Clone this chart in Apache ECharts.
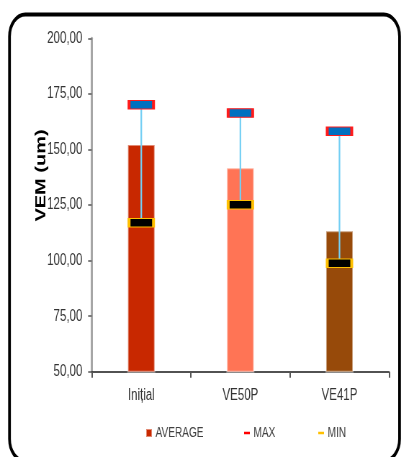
<!DOCTYPE html>
<html>
<head>
<meta charset="utf-8">
<script src="https://cdn.jsdelivr.net/npm/echarts@6/dist/echarts.min.js"></script>
<style>
  html, body { margin: 0; padding: 0; background: #ffffff; overflow: hidden; width: 401px; height: 457px; }
  /* chart is laid out on a wider canvas and condensed horizontally */
  #chart { width: 557px; height: 457px; transform: scaleX(0.72); transform-origin: 0 0; }
</style>
</head>
<body>
<div id="chart"></div>
<script>
// Sample groups and measured VEM values (um)
const categories = ['Inițial', 'VE50P', 'VE41P'];
const averageValues = [152.4, 142.0, 113.6];
const maxValues = [170.1, 166.4, 158.2];
const minValues = [117.0, 125.1, 98.8];
const barColors = ['#C82800', '#FF7455', '#974A0A'];

// Value axis range
const yMin = 50;
const yMax = 200;
const yStep = 25;

const FONT = '"Liberation Sans", Arial, sans-serif';

const chart = echarts.init(document.getElementById('chart'), null, { renderer: 'canvas' });

const legendText = { fontSize: 14, color: '#404040', fontFamily: FONT };

const option = {
  animation: false,
  backgroundColor: '#ffffff',
  textStyle: { fontFamily: FONT },
  grid: { left: 127.4, right: 16.7, top: 38.3, bottom: 85.3, containLabel: false },
  graphic: [
    {
      type: 'rect',
      shape: { x: 13.2, y: 14.5, width: 541.7, height: 446.5, r: 22 },
      style: { fill: 'none', stroke: '#000000', lineWidth: 3.8 },
      z: 100
    },
    {
      type: 'text',
      x: 57,
      y: 175.5,
      rotation: Math.PI / 2,
      style: {
        text: 'VEM (um)',
        font: 'bold 20px ' + FONT,
        fill: '#000000',
        align: 'center',
        verticalAlign: 'middle'
      }
    }
  ],
  legend: [
    {
      left: 197, top: 421, itemWidth: 8, itemHeight: 8,
      textStyle: legendText,
      data: [{ name: 'AVERAGE', icon: 'rect' }]
    },
    {
      left: 334, top: 421, itemWidth: 8, itemHeight: 8,
      textStyle: legendText,
      data: [{ name: 'MAX', icon: 'path://M0,0h8v2.5h-8z', itemStyle: { color: '#FF0000', borderWidth: 0 } }]
    },
    {
      left: 437, top: 421, itemWidth: 8, itemHeight: 8,
      textStyle: legendText,
      data: [{ name: 'MIN', icon: 'path://M0,0h8v2.5h-8z', itemStyle: { color: '#FFC000', borderWidth: 0 } }]
    }
  ],
  xAxis: {
    type: 'category',
    data: categories,
    boundaryGap: true,
    axisLine: { show: true, lineStyle: { color: '#1a1a1a', width: 1.5 } },
    axisTick: { show: true, length: 6, lineStyle: { color: '#555555', width: 2 } },
    axisLabel: { color: '#333333', fontSize: 16, margin: 16, fontFamily: FONT },
    splitLine: { show: false }
  },
  yAxis: {
    type: 'value',
    min: yMin,
    max: yMax,
    interval: yStep,
    axisLine: { show: true, lineStyle: { color: '#A6A6A6', width: 3 } },
    axisTick: { show: true, length: 5, lineStyle: { color: '#555555', width: 1.5 } },
    axisLabel: {
      color: '#333333', fontSize: 16, margin: 13, fontFamily: FONT,
      formatter: v => v.toFixed(2).replace('.', ',')
    },
    splitLine: { show: false }
  },
  series: [
    {
      name: 'AVERAGE',
      type: 'bar',
      barWidth: 39,
      z: 2,
      itemStyle: { color: barColors[0], borderColor: 'rgba(255,255,255,0.45)', borderWidth: 2 },
      data: averageValues.map((v, i) => ({ value: v, itemStyle: { color: barColors[i] } }))
    },
    {
      name: 'HighLow',
      type: 'custom',
      z: 3,
      data: categories.map((c, i) => [i, maxValues[i], minValues[i]]),
      encode: { x: 0, y: [1, 2] },
      renderItem: (params, api) => {
        const top = api.coord([api.value(0), api.value(1)]);
        const bottom = api.coord([api.value(0), api.value(2)]);
        return {
          type: 'line',
          shape: { x1: top[0], y1: top[1], x2: bottom[0], y2: bottom[1] },
          style: { stroke: '#74CFF4', lineWidth: 2.2 }
        };
      }
    },
    {
      name: 'MAX',
      type: 'scatter',
      z: 4,
      symbol: 'rect',
      symbolSize: [34, 8.5],
      itemStyle: { color: '#0070C0', borderColor: '#FF1A1A', borderWidth: 2, opacity: 1 },
      data: maxValues
    },
    {
      name: 'MIN',
      type: 'scatter',
      z: 4,
      symbol: 'rect',
      symbolSize: [34, 8.5],
      itemStyle: { color: '#000000', borderColor: '#FFC000', borderWidth: 2, opacity: 1 },
      data: minValues
    }
  ]
};

chart.setOption(option);
</script>
</body>
</html>
